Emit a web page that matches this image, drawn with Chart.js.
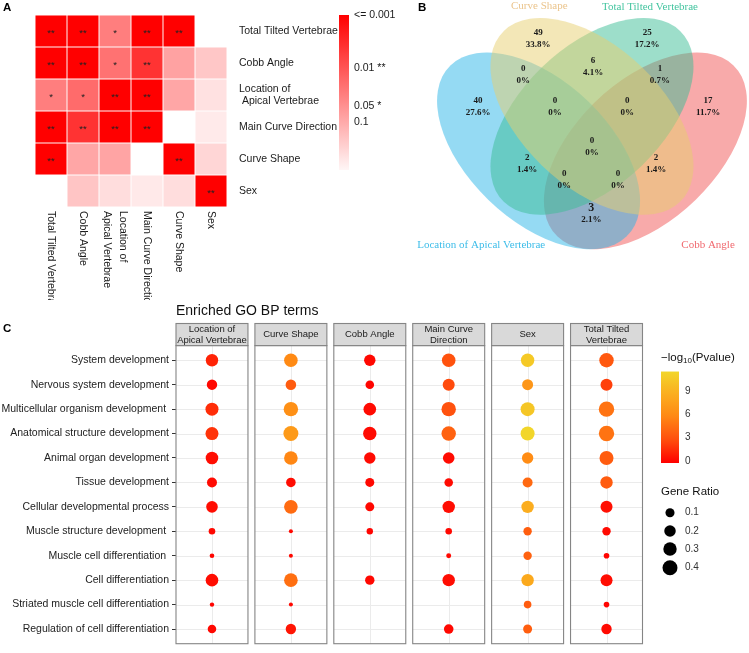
<!DOCTYPE html>
<html>
<head>
<meta charset="utf-8">
<script src="https://cdn.jsdelivr.net/npm/chart.js@4.4.1/dist/chart.umd.min.js"></script>
<style>
  body { margin: 0; background: #fff; width: 749px; height: 653px; position: relative; overflow: hidden; }
  canvas { position: absolute; }
</style>
</head>
<body>
<canvas id="heat" width="415" height="300" style="left:0;top:0"></canvas>
<canvas id="venn" width="334" height="260" style="left:415px;top:0"></canvas>
<canvas id="dots" width="749" height="353" style="left:0;top:300px"></canvas>
<script>
const FONT = '"Liberation Sans", Arial, Helvetica, sans-serif'
const SERIF = '"Liberation Serif", "Times New Roman", serif'
Chart.defaults.font.family = FONT
Chart.defaults.animation = false

// ---------- A: trait association heatmap ----------
const traits = ['Total Tilted Vertebrae', 'Cobb Angle', 'Location of Apical Vertebrae', 'Main Curve Direction', 'Curve Shape', 'Sex']
const traitRowLabels = [['Total Tilted Vertebrae'], ['Cobb Angle'], ['Location of', ' Apical Vertebrae'], ['Main Curve Direction'], ['Curve Shape'], ['Sex']]
const traitColLabels = [['Total Tilted Vertebrae'], ['Cobb Angle'], ['Location of', 'Apical Vertebrae'], ['Main Curve Direction'], ['Curve Shape'], ['Sex']]
// p values, one array per row (top to bottom), columns left to right
const pTTV        = [0.0005, 0.0005, 0.03,   0.0005, 0.0005, null]
const pCobb       = [0.0005, 0.0005, 0.022,  0.004,  0.08,   0.22]
const pLocation   = [0.03,   0.018,  0.0005, 0.0005, 0.09,   0.44]
const pMainCurve  = [0.0005, 0.004,  0.0005, 0.0005, null,   0.57]
const pCurveShape = [0.0005, 0.09,   0.085,  null,   0.0005, 0.33]
const pSex        = [null,   0.21,   0.4,    0.55,   0.4,    0.0005]
const pRows = [pTTV, pCobb, pLocation, pMainCurve, pCurveShape, pSex]
const pLegendTicks = [0.001, 0.01, 0.05, 0.1]
const pLegendLabels = ['<= 0.001', '0.01 **', '0.05 *', '0.1']

const heatColor = p => {
    const t = Math.max(0, Math.min(1, -Math.log10(p) / 3))
    const c = Math.round(255 * (1 - t))
    return `rgb(255,${c},${c})`
}

const heatExtras = {
    id: 'heatExtras',
    afterDatasetsDraw(chart) {
        const ctx = chart.ctx
        const xs = chart.scales.x
        ctx.save()
        // significance stars
        ctx.fillStyle = '#222'
        ctx.font = `9.5px ${FONT}`
        ctx.textAlign = 'center'
        ctx.textBaseline = 'middle'
        chart.data.datasets.forEach((ds, i) => {
            chart.getDatasetMeta(i).data.forEach((bar, j) => {
                const p = pRows[i][j]
                if (p == null) return
                const mark = p < 0.01 ? '**' : p < 0.05 ? '*' : ''
                ctx.fillText(mark, bar.x, (bar.y + bar.base) / 2 + 2)
            })
        })
        // column labels, turned clockwise
        ctx.font = `10.5px ${FONT}`
        ctx.fillStyle = '#1a1a1a'
        ctx.textAlign = 'left'
        traitColLabels.forEach((lines, j) => {
            ctx.save()
            ctx.translate(xs.getPixelForValue(j), chart.chartArea.bottom + 4)
            ctx.rotate(Math.PI / 2)
            lines.forEach((ln, k) => ctx.fillText(ln, 0, (k - (lines.length - 1) / 2) * 16))
            ctx.restore()
        })
        // colour bar
        const top = 15, bottom = 170, perDecade = 53.5
        const g = ctx.createLinearGradient(0, top, 0, bottom)
        for (let k = 0; k <= 20; k++) {
            const y = top + k * (bottom - top) / 20
            g.addColorStop(k / 20, heatColor(Math.pow(10, (y - top) / perDecade - 3)))
        }
        ctx.fillStyle = g
        ctx.fillRect(339, top, 10, bottom - top)
        ctx.fillStyle = '#1a1a1a'
        ctx.font = `10.5px ${FONT}`
        pLegendTicks.forEach((p, k) => {
            ctx.fillText(pLegendLabels[k], 354, top + (Math.log10(p) + 3) * perDecade)
        })
        // panel letter
        ctx.font = `bold 11.5px ${FONT}`
        ctx.fillStyle = '#000'
        ctx.textBaseline = 'top'
        ctx.fillText('A', 3, 2)
        ctx.restore()
    }
}

new Chart(document.getElementById('heat'), {
    type: 'bar',
    data: {
        labels: traits,
        datasets: pRows.map((row, i) => ({
            data: row.map(p => p == null ? null : [i + 0.015, i + 0.985]),
            backgroundColor: row.map(p => p == null ? 'rgba(0,0,0,0)' : heatColor(p)),
            borderWidth: 0,
            grouped: false,
            categoryPercentage: 1,
            barPercentage: 0.97
        }))
    },
    options: {
        responsive: false,
        devicePixelRatio: 1,
        layout: { padding: { left: 35, top: 15, bottom: 93, right: 0 } },
        plugins: { legend: { display: false }, tooltip: { enabled: false } },
        scales: {
            x: { display: false },
            y: {
                position: 'right', min: 0, max: 6, reverse: true,
                grid: { display: false }, border: { display: false },
                afterBuildTicks: s => { s.ticks = traits.map((_, i) => ({ value: i + 0.5 })) },
                afterFit: s => { s.width = 188 },
                ticks: {
                    padding: 4, color: '#1a1a1a', font: { size: 10.5 }, autoSkip: false,
                    callback: v => traitRowLabels[Math.floor(v)]
                }
            }
        }
    },
    plugins: [heatExtras]
})

// ---------- B: Venn diagram ----------
const vennSets = ['Location of Apical Vertebrae', 'Curve Shape', 'Total Tilted Vertebrae', 'Cobb Angle']
const vennRegions = ['CS', 'TTV', 'CS&TTV', 'LAV&CS', 'TTV&CA', 'LAV', 'CA', 'LAV&CS&TTV', 'CS&TTV&CA', 'LAV&CS&TTV&CA', 'LAV&TTV', 'CS&CA', 'LAV&TTV&CA', 'LAV&CS&CA', 'LAV&CA']
const vennCounts = [49, 25, 6, 0, 1, 40, 17, 0, 0, 0, 2, 2, 0, 0, 3]
// label spots for each region (diagram units)
const vennSpots = [[0.349, 0.794], [0.655, 0.794], [0.503, 0.713], [0.307, 0.690], [0.691, 0.690], [0.180, 0.597], [0.826, 0.597],
    [0.396, 0.597], [0.599, 0.597], [0.500, 0.481], [0.318, 0.432], [0.680, 0.432], [0.422, 0.388], [0.573, 0.388], [0.498, 0.287]]
const vennEllipses = [
    { cx: 0.35, cy: 0.47, a: 0.35, b: 0.2, rot: -45 },
    { cx: 0.50, cy: 0.57, a: 0.35, b: 0.2, rot: -45 },
    { cx: 0.50, cy: 0.57, a: 0.35, b: 0.2, rot: 45 },
    { cx: 0.65, cy: 0.47, a: 0.35, b: 0.2, rot: 45 }
]
const vennFills = ['rgba(43,181,232,0.5)', 'rgba(232,208,112,0.5)', 'rgba(60,190,150,0.5)', 'rgba(242,86,86,0.5)']
const vennTextColors = ['#3dbde9', '#ebc48c', '#43c49f', '#f0686e']
const vennSetSpots = [[0.189, 0.197], [0.352, 0.89], [0.663, 0.887], [0.826, 0.197]]
const vennDrawOrder = [3, 0, 2, 1]

const vennTotal = vennCounts.reduce((s, v) => s + v, 0)

const vennPlugin = {
    id: 'venn',
    beforeDatasetsDraw(chart) {
        const { ctx, scales: { x, y } } = chart
        const sx = x.getPixelForValue(1) - x.getPixelForValue(0)
        const sy = y.getPixelForValue(0) - y.getPixelForValue(1)
        vennDrawOrder.forEach(k => {
            const e = vennEllipses[k]
            ctx.save()
            ctx.translate(x.getPixelForValue(e.cx), y.getPixelForValue(e.cy))
            ctx.scale(sx, -sy)
            ctx.rotate(e.rot * Math.PI / 180)
            ctx.beginPath()
            ctx.ellipse(0, 0, e.a, e.b, 0, 0, 2 * Math.PI)
            ctx.restore()
            ctx.fillStyle = vennFills[k]
            ctx.fill()
        })
    },
    afterDatasetsDraw(chart) {
        const { ctx, scales: { x, y } } = chart
        ctx.save()
        ctx.textAlign = 'center'
        ctx.textBaseline = 'middle'
        ctx.fillStyle = '#1a1a1a'
        chart.getDatasetMeta(0).data.forEach((pt, k) => {
            const n = vennCounts[k]
            const pct = n === 0 ? '0%' : (n / vennTotal * 100).toFixed(1) + '%'
            ctx.font = `bold ${vennRegions[k] === 'LAV&CA' ? 12 : 9}px ${SERIF}`
            ctx.fillText(String(n), pt.x, pt.y - 6)
            ctx.font = `bold 9px ${SERIF}`
            ctx.fillText(pct, pt.x, pt.y + 6)
        })
        ctx.font = `11px ${SERIF}`
        vennSets.forEach((s, k) => {
            ctx.fillStyle = vennTextColors[k]
            ctx.fillText(s, x.getPixelForValue(vennSetSpots[k][0]), y.getPixelForValue(vennSetSpots[k][1]))
        })
        ctx.font = `bold 11.5px ${FONT}`
        ctx.fillStyle = '#000'
        ctx.textAlign = 'left'
        ctx.textBaseline = 'top'
        ctx.fillText('B', 3, 2)
        ctx.restore()
    }
}

new Chart(document.getElementById('venn'), {
    type: 'scatter',
    data: { datasets: [{ data: vennSpots.map(([x, y]) => ({ x, y })), pointRadius: 0 }] },
    options: {
        responsive: false,
        devicePixelRatio: 1,
        layout: { padding: 0 },
        plugins: { legend: { display: false }, tooltip: { enabled: false } },
        scales: {
            x: { type: 'linear', display: false, min: 0.003, max: 0.941 },
            y: { type: 'linear', display: false, min: 0.154, max: 0.907 }
        }
    },
    plugins: [vennPlugin]
})

// ---------- C: GO BP dot plot ----------
const goTerms = ['System development', 'Nervous system development', 'Multicellular organism development ', 'Anatomical structure development',
    'Animal organ development', 'Tissue development', 'Cellular developmental process', 'Muscle structure development ',
    'Muscle cell differentiation ', 'Cell differentiation', 'Striated muscle cell differentiation', 'Regulation of cell differentiation']
const facets = ['Location of Apical Vertebrae', 'Curve Shape', 'Cobb Angle', 'Main Curve Direction', 'Sex', 'Total Tilted Vertebrae']
const facetStrips = [['Location of', 'Apical Vertebrae'], ['Curve Shape'], ['Cobb Angle'], ['Main Curve', 'Direction'], ['Sex'], ['Total Tilted', 'Vertebrae']]

const ratioLocation = [0.245, 0.15, 0.278, 0.278, 0.255, 0.134, 0.204, 0.033, 0.006, 0.255, 0.004, 0.084]
const logpLocation  = [1.3, 0.3, 1.7, 1.9, 0.5, 0.4, 0.5, 0.3, 0.2, 0.5, 0.2, 0.3]
const ratioCurve    = [0.313, 0.158, 0.363, 0.40, 0.313, 0.118, 0.313, 0.002, 0.002, 0.313, 0.002, 0.15]
const logpCurve     = [6.0, 3.6, 6.4, 7.2, 5.8, 0.5, 4.4, 0.3, 0.3, 4.6, 0.3, 0.8]
const ratioCobb     = [0.194, 0.084, 0.255, 0.30, 0.194, 0.097, 0.097, 0.03, null, 0.111, null, null]
const logpCobb      = [0.3, 0.2, 0.4, 0.4, 0.4, 0.3, 0.3, 0.2, null, 0.3, null, null]
const ratioMain     = [0.313, 0.224, 0.363, 0.363, 0.204, 0.084, 0.245, 0.033, 0.009, 0.245, null, 0.118]
const logpMain      = [3.1, 2.8, 3.1, 3.9, 0.4, 0.4, 0.5, 0.3, 0.3, 0.5, null, 0.3]
const ratioSex      = [0.30, 0.176, 0.337, 0.337, 0.194, 0.134, 0.245, 0.078, 0.078, 0.245, 0.056, 0.097]
const logpSex       = [10.6, 6.9, 10.4, 11.5, 6.1, 4.3, 8.6, 3.7, 3.9, 8.3, 3.6, 3.7]
const ratioTTV      = [0.363, 0.224, 0.43, 0.43, 0.337, 0.245, 0.224, 0.078, 0.017, 0.224, 0.017, 0.15]
const logpTTV       = [3.4, 2.4, 4.8, 4.8, 3.6, 3.6, 0.6, 0.4, 0.2, 0.5, 0.2, 0.4]
const goRatios = [ratioLocation, ratioCurve, ratioCobb, ratioMain, ratioSex, ratioTTV]
const goLogP = [logpLocation, logpCurve, logpCobb, logpMain, logpSex, logpTTV]
const colorTicks = [0, 3, 6, 9]
const ratioTicks = [0.1, 0.2, 0.3, 0.4]

const dotRadius = ratio => 1.6 + 9.3 * Math.sqrt(ratio)
const goMax = Math.max(...goLogP.flat().filter(v => v != null))
const goStops = [[0, [255, 0, 0]], [0.26, [255, 80, 14]], [0.52, [255, 138, 20]], [0.78, [250, 178, 32]], [1, [242, 214, 42]]]
const goColor = v => {
    const t = Math.max(0, Math.min(1, v / goMax))
    for (let k = 1; k < goStops.length; k++) {
        const [t1, c1] = goStops[k]
        const [t0, c0] = goStops[k - 1]
        if (t <= t1) {
            const f = (t - t0) / (t1 - t0)
            return `rgb(${c0.map((c, i) => Math.round(c + (c1[i] - c) * f)).join(',')})`
        }
    }
    return 'rgb(242,214,42)'
}

const PANEL_HALF = 0.456

const dotPanels = {
    id: 'dotPanels',
    beforeDatasetsDraw(chart) {
        const { ctx, chartArea: a, scales: { x, y } } = chart
        ctx.save()
        facets.forEach((f, fi) => {
            const x0 = x.getPixelForValue(fi - PANEL_HALF)
            const x1 = x.getPixelForValue(fi + PANEL_HALF)
            ctx.strokeStyle = '#ebebeb'
            ctx.lineWidth = 1
            goTerms.forEach((t, ti) => {
                const yy = Math.round(y.getPixelForValue(ti)) + 0.5
                ctx.beginPath(); ctx.moveTo(x0, yy); ctx.lineTo(x1, yy); ctx.stroke()
            })
            const xc = Math.round(x.getPixelForValue(fi)) + 0.5
            ctx.beginPath(); ctx.moveTo(xc, a.top); ctx.lineTo(xc, a.bottom); ctx.stroke()
            ctx.strokeStyle = '#858585'
            ctx.lineWidth = 1.1
            ctx.strokeRect(x0, a.top, x1 - x0, a.bottom - a.top)
            // strip
            ctx.fillStyle = '#d9d9d9'
            ctx.fillRect(x0, 23.5, x1 - x0, a.top - 23.5)
            ctx.strokeRect(x0, 23.5, x1 - x0, a.top - 23.5)
            ctx.fillStyle = '#1a1a1a'
            ctx.font = `9.5px ${FONT}`
            ctx.textAlign = 'center'
            ctx.textBaseline = 'middle'
            const lines = facetStrips[fi]
            const mid = (23.5 + a.top) / 2
            lines.forEach((ln, k) => ctx.fillText(ln, (x0 + x1) / 2, mid + (k - (lines.length - 1) / 2) * 10.7))
        })
        ctx.restore()
    },
    afterDraw(chart) {
        const ctx = chart.ctx
        ctx.save()
        ctx.textBaseline = 'middle'
        ctx.textAlign = 'left'
        ctx.fillStyle = '#111'
        ctx.font = `14px ${FONT}`
        ctx.fillText('Enriched GO BP terms', 176, 11)
        ctx.font = `bold 11.5px ${FONT}`
        ctx.fillStyle = '#000'
        ctx.fillText('C', 3, 29)

        // colour legend
        ctx.fillStyle = '#111'
        ctx.font = `11.5px ${FONT}`
        let tx = 661
        ctx.fillText('\u2212log', tx, 57.7)
        tx += ctx.measureText('\u2212log').width
        ctx.font = `8px ${FONT}`
        ctx.fillText('10', tx, 61)
        tx += ctx.measureText('10').width
        ctx.font = `11.5px ${FONT}`
        ctx.fillText('(Pvalue)', tx, 57.7)
        const yFor = v => 161 - v * 7.78
        const top = yFor(goMax), bottom = 163
        const g = ctx.createLinearGradient(0, bottom, 0, top)
        for (let k = 0; k <= 20; k++) g.addColorStop(k / 20, goColor(goMax * k / 20))
        ctx.fillStyle = g
        ctx.fillRect(661, top, 18, bottom - top)
        ctx.fillStyle = '#333'
        ctx.font = `10px ${FONT}`
        colorTicks.forEach(v => ctx.fillText(String(v), 685, yFor(v)))

        // size legend
        ctx.fillStyle = '#111'
        ctx.font = `11.5px ${FONT}`
        ctx.fillText('Gene Ratio', 661, 192)
        const sizeY = [212.7, 231, 249, 267.7]
        ratioTicks.forEach((r, k) => {
            ctx.fillStyle = '#000'
            ctx.beginPath()
            ctx.arc(670, sizeY[k], dotRadius(r), 0, 2 * Math.PI)
            ctx.fill()
            ctx.fillStyle = '#333'
            ctx.font = `10px ${FONT}`
            ctx.fillText(String(r), 685, sizeY[k])
        })
        ctx.restore()
    }
}

new Chart(document.getElementById('dots'), {
    type: 'bubble',
    data: {
        datasets: facets.map((f, fi) => ({
            label: f,
            data: goTerms.map((t, ti) => goRatios[fi][ti] == null ? null
                : { x: fi, y: ti, r: dotRadius(goRatios[fi][ti]), v: goLogP[fi][ti] }).filter(d => d),
            backgroundColor: c => c.raw ? goColor(c.raw.v) : '#f00',
            borderWidth: 0,
            hoverBorderWidth: 0
        }))
    },
    options: {
        responsive: false,
        devicePixelRatio: 1,
        layout: { padding: { top: 45.6, right: 106.5, bottom: 2, left: 0 } },
        plugins: { legend: { display: false }, tooltip: { enabled: false } },
        scales: {
            x: { type: 'linear', display: false, min: -PANEL_HALF, max: 5 + PANEL_HALF },
            y: {
                type: 'linear', min: -0.6, max: 11.6, reverse: true,
                afterBuildTicks: s => { s.ticks = goTerms.map((_, i) => ({ value: i })) },
                afterFit: s => { s.width = 176 },
                grid: { drawOnChartArea: false, drawTicks: true, tickLength: 4, color: '#333' },
                border: { display: false },
                ticks: { padding: 3, color: '#222', font: { size: 10.5 }, autoSkip: false, callback: v => goTerms[v] }
            }
        }
    },
    plugins: [dotPanels]
})
</script>
</body>
</html>
